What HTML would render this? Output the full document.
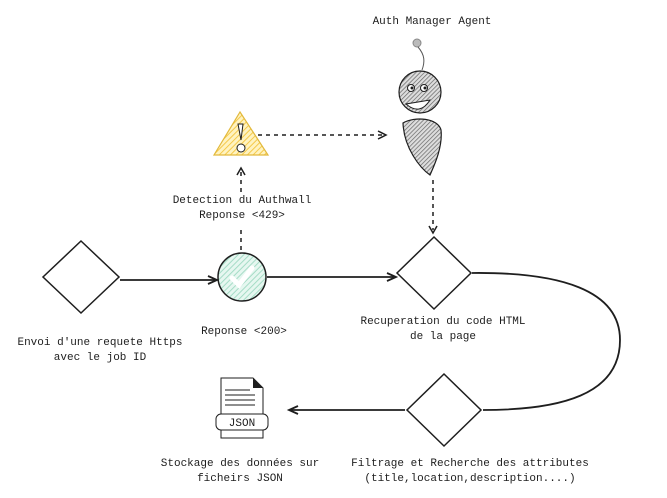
<!DOCTYPE html>
<html><head><meta charset="utf-8"><style>
body{margin:0;background:#fff}
svg{display:block}
text{font-family:"Liberation Mono",monospace;font-size:11px;fill:#1e1e1e;text-anchor:middle}
</style></head><body>
<svg width="667" height="498" viewBox="0 0 667 498" xmlns="http://www.w3.org/2000/svg">
<defs>
<pattern id="h" width="3" height="3" patternUnits="userSpaceOnUse" patternTransform="rotate(45)"><rect width="3" height="3" fill="#ddd"/><line x1="0" y1="0" x2="0" y2="3" stroke="#666" stroke-width="1.4"/></pattern>
<pattern id="y" width="4" height="4" patternUnits="userSpaceOnUse" patternTransform="rotate(45)"><rect width="4" height="4" fill="#fff3c0"/><line x1="0" y1="0" x2="0" y2="4" stroke="#f5c94a" stroke-width="2"/></pattern>
<pattern id="g" width="4" height="4" patternUnits="userSpaceOnUse" patternTransform="rotate(45)"><rect width="4" height="4" fill="#e6f7f0"/><line x1="0" y1="0" x2="0" y2="4" stroke="#a5dcc6" stroke-width="2"/></pattern>
</defs>
<g fill="#fff" stroke="#1e1e1e" stroke-width="1.5">
<path d="M81 241 L119 277 L81 313 L43 277 Z"/>
<path d="M434 237 L471 273 L434 309 L397 273 Z"/>
<path d="M444 374 L481 410 L444 446 L407 410 Z"/>
</g>
<circle cx="242" cy="277" r="24" fill="url(#g)" stroke="#1e1e1e" stroke-width="1.5"/>
<path d="M232 278 L239 285 L252 268" fill="none" stroke="#fff" stroke-width="5" stroke-linecap="round"/>
<g stroke="#1e1e1e" stroke-width="1.8" fill="none">
<path d="M120 280 L216 280"/><path d="M208 276 L217 280 L208 284"/>
<path d="M267 277 L395 277"/><path d="M387 273 L396 277 L387 281"/>
<path d="M472 273 C560 272 620 290 620 340 C620 395 560 410 483 410"/>
<path d="M405 410 L290 410"/><path d="M298 406 L289 410 L298 414"/>
</g>
<g stroke="#1e1e1e" stroke-width="1.5" fill="none" stroke-dasharray="4 4">
<path d="M241 250 L241 226"/>
<path d="M241 192 L241 168"/>
<path d="M258 135 L384 135"/>
<path d="M433 180 L433 230"/>
</g>
<g stroke="#1e1e1e" stroke-width="1.5" fill="none">
<path d="M237 175 L241 168 L245 175"/>
<path d="M378 131 L386 135 L378 139"/>
<path d="M429 226 L433 233 L437 226"/>
</g>
<path d="M240 112 L268 155 L214 155 Z" fill="url(#y)" stroke="#e2b93c" stroke-width="1.2"/>
<path d="M238 124 L243 124 L241 140 Z" fill="#fff" stroke="#1e1e1e" stroke-width="1"/>
<circle cx="241" cy="148" r="4" fill="#fff" stroke="#1e1e1e"/>
<circle cx="417" cy="43" r="4" fill="#bbb" stroke="#888"/>
<path d="M418 47 C425 55 425 62 422 70" fill="none" stroke="#555"/>
<circle cx="420" cy="92" r="21" fill="url(#h)" stroke="#1e1e1e" stroke-width="1.2"/>
<circle cx="411" cy="88" r="3.5" fill="#fff" stroke="#1e1e1e"/><circle cx="412" cy="88" r="1.5" fill="#1e1e1e"/>
<circle cx="424" cy="88" r="3.5" fill="#fff" stroke="#1e1e1e"/><circle cx="425" cy="88" r="1.5" fill="#1e1e1e"/>
<path d="M406 104 Q420 116 430 100 Z" fill="#fff" stroke="#1e1e1e"/>
<path d="M403 123 C415 116 438 118 441 130 C443 148 433 168 430 175 C420 168 404 148 403 123 Z" fill="url(#h)" stroke="#1e1e1e" stroke-width="1.2"/>
<path d="M221 378 L253 378 L263 388 L263 438 L221 438 Z" fill="#fff" stroke="#1e1e1e"/>
<path d="M253 378 L263 388 L253 388 Z" fill="#1e1e1e"/>
<g stroke="#1e1e1e"><line x1="225" y1="390" x2="250" y2="390"/><line x1="225" y1="395" x2="255" y2="395"/><line x1="225" y1="400" x2="255" y2="400"/><line x1="225" y1="405" x2="255" y2="405"/></g>
<rect x="216" y="414" width="52" height="16" rx="5" fill="#fff" stroke="#1e1e1e"/>
<text x="242" y="426">JSON</text>
<text x="432" y="24">Auth Manager Agent</text>
<text x="242" y="203">Detection du Authwall</text>
<text x="242" y="218">Reponse &lt;429&gt;</text>
<text x="100" y="345">Envoi d'une requete Https</text>
<text x="100" y="360">avec le job ID</text>
<text x="244" y="334">Reponse &lt;200&gt;</text>
<text x="443" y="324">Recuperation du code HTML</text>
<text x="443" y="339">de la page</text>
<text x="240" y="466">Stockage des données sur</text>
<text x="240" y="481">ficheirs JSON</text>
<text x="470" y="466">Filtrage et Recherche des attributes</text>
<text x="470" y="481">(title,location,description....)</text>
</svg>
</body></html>
